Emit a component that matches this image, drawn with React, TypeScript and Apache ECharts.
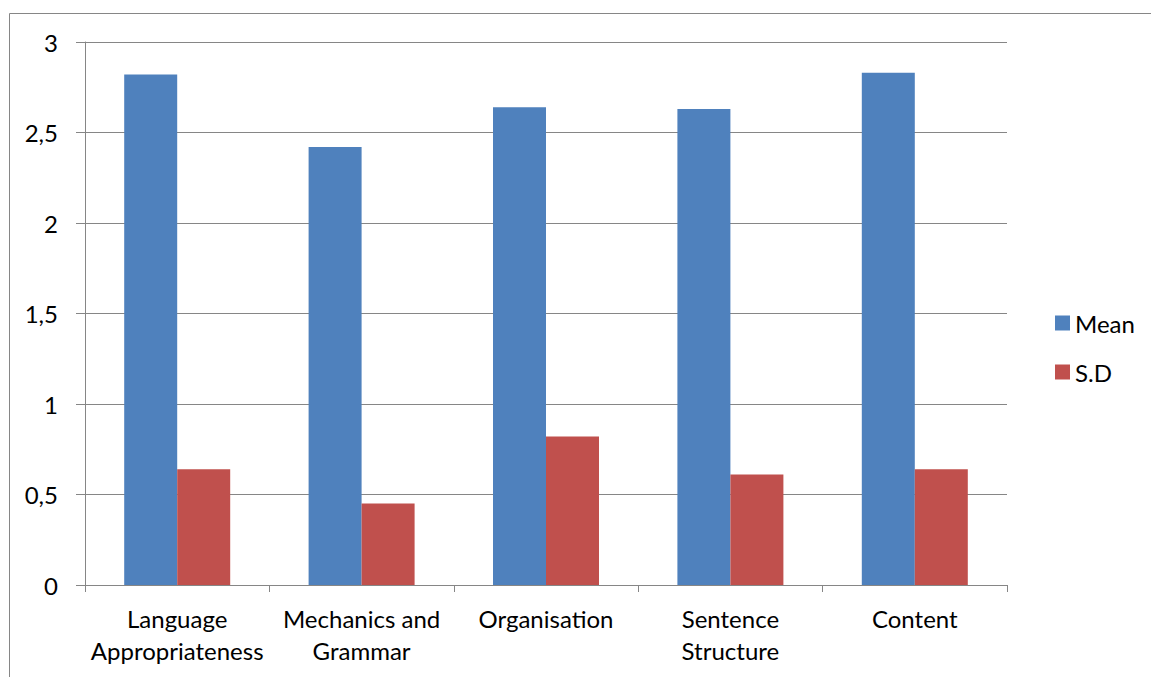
import React, { useEffect, useRef } from "react";
import * as echarts from "echarts";

const categories = [
  "Language\nAppropriateness",
  "Mechanics and\nGrammar",
  "Organisation",
  "Sentence\nStructure",
  "Content",
];
const meanValues = [2.82, 2.42, 2.64, 2.63, 2.83];
const sdValues = [0.64, 0.45, 0.82, 0.61, 0.64];
const seriesNames = ["Mean", "S.D"];

const FONT = "Lato, 'Open Sans', sans-serif";
const FONT_SIZE = 24;
const GRID_COLOR = "#868686";

export default function App() {
  const ref = useRef<HTMLDivElement>(null);

  useEffect(() => {
    if (!ref.current) return;
    const chart = echarts.init(ref.current, null, { renderer: "svg" });
    chart.setOption({
      animation: false,
      backgroundColor: "#ffffff",
      textStyle: { fontFamily: FONT },
      graphic: [
        {
          type: "rect",
          shape: { x: 9.5, y: 13.5, width: 1160, height: 700 },
          style: { fill: "none", stroke: GRID_COLOR, lineWidth: 1 },
          silent: true,
        },
      ],
      grid: { left: 85, top: 42, right: 144, bottom: 92, containLabel: false },
      legend: {
        orient: "vertical",
        left: 1050,
        top: 306,
        itemWidth: 15,
        itemHeight: 15,
        itemGap: 25,
        icon: "rect",
        textStyle: { fontFamily: FONT, fontSize: FONT_SIZE, lineHeight: 24, color: "#000" },
        data: seriesNames,
      },
      xAxis: {
        type: "category",
        data: categories,
        axisLine: { show: true, lineStyle: { color: GRID_COLOR, width: 1 } },
        axisTick: { show: true, length: 7, alignWithLabel: false, lineStyle: { color: GRID_COLOR } },
        axisLabel: {
          color: "#000",
          fontFamily: FONT,
          fontSize: FONT_SIZE,
          lineHeight: 32,
          margin: 17,
          interval: 0,
        },
      },
      yAxis: {
        type: "value",
        min: 0,
        max: 3,
        interval: 0.5,
        axisLine: { show: true, lineStyle: { color: GRID_COLOR, width: 1 } },
        axisTick: { show: true, length: 9, lineStyle: { color: GRID_COLOR } },
        splitLine: { show: true, lineStyle: { color: GRID_COLOR, width: 1 } },
        axisLabel: {
          color: "#000",
          fontFamily: FONT,
          fontSize: FONT_SIZE,
          margin: 27,
          formatter: (v: number) => String(v).replace(".", ","),
        },
      },
      series: [
        {
          name: seriesNames[0],
          type: "bar",
          data: meanValues,
          barWidth: 53,
          barGap: "0%",
          itemStyle: { color: "#4F81BD" },
        },
        {
          name: seriesNames[1],
          type: "bar",
          data: sdValues,
          barWidth: 53,
          barGap: "0%",
          itemStyle: { color: "#C0504D" },
        },
      ],
    });
    return () => chart.dispose();
  }, []);

  return (
    <div
      ref={ref}
      style={{ position: "absolute", left: 0, top: 0, width: 1151, height: 677 }}
    />
  );
}
